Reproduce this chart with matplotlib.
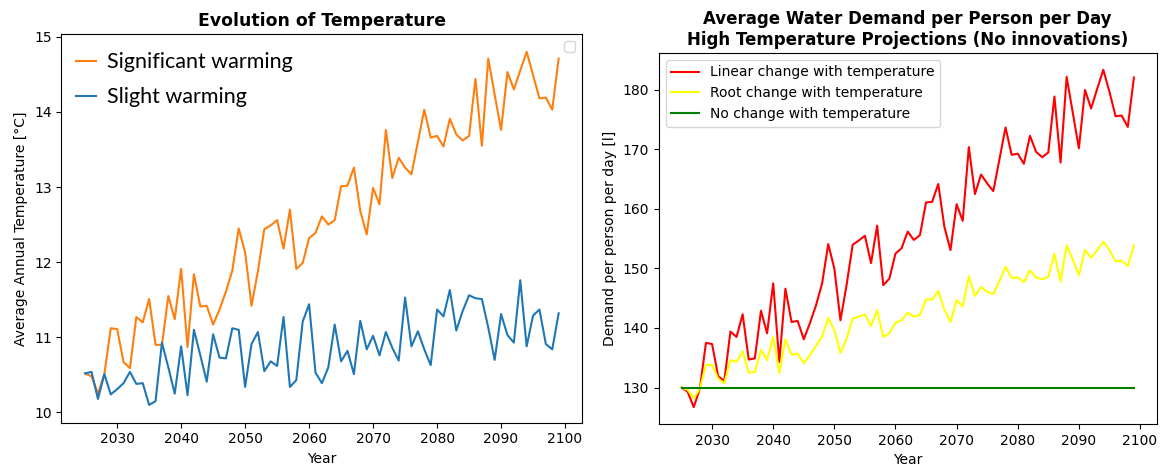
import numpy as np
import matplotlib
matplotlib.use("Agg")
import matplotlib.pyplot as plt
from matplotlib.lines import Line2D

years = list(range(2025, 2100))

significant = [10.52, 10.48, 10.25, 10.51, 11.12, 11.11, 10.67, 10.59, 11.27, 11.20,
               11.51, 10.90, 10.90, 11.55, 11.24, 11.91, 10.87, 11.84, 11.41, 11.42,
               11.17, 11.37, 11.61, 11.89, 12.45, 12.13, 11.42, 11.88, 12.44, 12.49,
               12.56, 12.18, 12.70, 11.91, 11.99, 12.32, 12.39, 12.61, 12.50, 12.56,
               13.01, 13.02, 13.26, 12.68, 12.37, 12.99, 12.77, 13.76, 13.12, 13.39,
               13.26, 13.17, 13.60, 14.03, 13.66, 13.68, 13.54, 13.91, 13.70, 13.62,
               13.68, 14.44, 13.55, 14.71, 14.23, 13.76, 14.53, 14.30, 14.55, 14.80,
               14.49, 14.18, 14.19, 14.03, 14.71]

slight = [10.52, 10.54, 10.18, 10.51, 10.24, 10.31, 10.39, 10.54, 10.38, 10.39,
          10.10, 10.15, 10.93, 10.60, 10.25, 10.88, 10.23, 11.10, 10.76, 10.41,
          11.04, 10.73, 10.72, 11.12, 11.10, 10.34, 10.91, 11.07, 10.55, 10.68,
          10.62, 11.27, 10.34, 10.43, 11.21, 11.44, 10.53, 10.39, 10.60, 11.17,
          10.68, 10.82, 10.51, 11.22, 10.84, 11.02, 10.76, 11.07, 10.86, 10.69,
          11.53, 10.88, 11.08, 10.84, 10.63, 11.37, 11.28, 11.63, 11.09, 11.35,
          11.56, 11.52, 11.51, 11.13, 10.70, 11.31, 11.03, 10.93, 11.76, 10.88,
          11.29, 11.37, 10.91, 10.84, 11.32]

linear_demand = [130.0, 129.3, 126.7, 129.8, 137.5, 137.3, 131.9, 131.1, 139.4, 138.5,
                 142.3, 134.7, 134.9, 142.9, 139.1, 147.5, 134.3, 146.6, 141.0, 141.2,
                 138.1, 140.8, 143.8, 147.5, 154.1, 150.0, 141.3, 147.2, 154.0, 154.7,
                 155.5, 150.9, 157.2, 147.2, 148.3, 152.5, 153.4, 156.2, 154.8, 155.6,
                 161.1, 161.2, 164.2, 157.0, 153.1, 160.8, 158.0, 170.4, 162.5, 165.8,
                 164.3, 163.0, 168.3, 173.7, 169.1, 169.3, 167.6, 172.3, 169.6, 168.7,
                 169.5, 178.9, 167.8, 182.2, 176.2, 170.2, 180.0, 176.9, 180.2, 183.4,
                 179.7, 175.6, 175.7, 173.8, 182.1]

root_demand = [130.0, 129.6, 128.2, 129.8, 133.8, 133.8, 131.5, 130.7, 134.6, 134.3,
               136.1, 132.5, 132.6, 136.3, 134.6, 138.5, 132.4, 138.1, 135.5, 135.7,
               134.1, 135.4, 137.0, 138.6, 141.7, 139.6, 135.8, 138.2, 141.6, 141.9,
               142.3, 140.3, 143.0, 138.5, 139.1, 140.9, 141.3, 142.6, 141.9, 142.2,
               144.8, 144.8, 146.2, 143.1, 141.0, 144.7, 143.6, 148.7, 145.4, 146.9,
               146.1, 145.7, 147.9, 150.3, 148.4, 148.5, 147.7, 149.7, 148.5, 148.2,
               148.6, 152.5, 147.8, 153.9, 151.5, 148.9, 153.1, 151.8, 153.1, 154.5,
               153.1, 151.2, 151.3, 150.4, 153.9]

no_change_demand = [130.0] * len(years)

fig = plt.figure(figsize=(11.6, 4.68), dpi=100)

# left panel: temperature
ax1 = fig.add_axes([0.053, 0.097, 0.449, 0.830])
ax1.plot(years, significant, color='tab:orange', label='Significant warming')
ax1.plot(years, slight, color='tab:blue', label='Slight warming')
ax1.set_title('Evolution of Temperature', fontweight='bold', fontsize=12.4)
ax1.set_xlabel('Year', fontsize=10)
ax1.set_ylabel('Average Annual Temperature [°C]', fontsize=10)
ax1.tick_params(labelsize=10)
ax1.set_yticks([10, 11, 12, 13, 14, 15])
ax1.set_xticks([2030, 2040, 2050, 2060, 2070, 2080, 2090, 2100])

# empty legend box in the corner, as in the original
empty = ax1.legend(handles=[], loc='upper right')
ax1.add_artist(empty)
handles = [Line2D([], [], color='tab:orange'), Line2D([], [], color='tab:blue')]
ax1.legend(handles, ['Significant warming', 'Slight warming'], loc='upper left',
           bbox_to_anchor=(0.012, 0.975), borderaxespad=0,
           frameon=False, prop={'family': 'Lato', 'size': 15.5},
           handlelength=0.93, handletextpad=0.5, labelspacing=0.68)

# right panel: water demand
ax2 = fig.add_axes([0.568, 0.094, 0.429, 0.793])
ax2.plot(years, linear_demand, color='red', label='Linear change with temperature')
ax2.plot(years, root_demand, color='yellow', label='Root change with temperature')
ax2.plot(years, no_change_demand, color='green', label='No change with temperature')
ax2.set_title('Average Water Demand per Person per Day\nHigh Temperature Projections (No innovations)',
              fontweight='bold', fontsize=12)
ax2.set_xlabel('Year', fontsize=10)
ax2.set_ylabel('Demand per person per day [l]', fontsize=10)
ax2.tick_params(labelsize=10)
ax2.set_xticks([2030, 2040, 2050, 2060, 2070, 2080, 2090, 2100])
ax2.legend(loc='upper left', fontsize=10)

fig.savefig('out.png', dpi=100)
